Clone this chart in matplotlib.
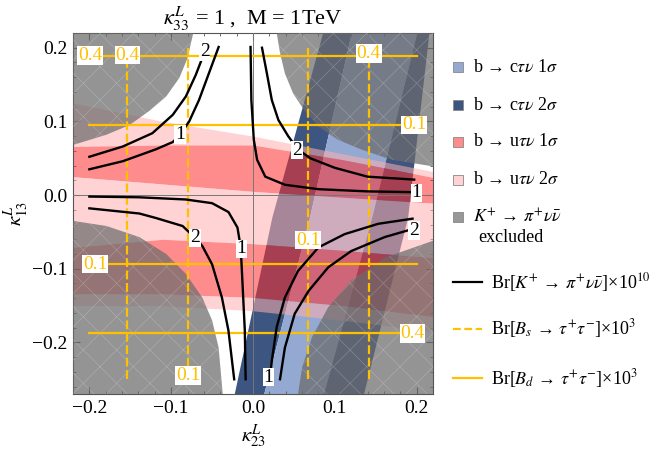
import numpy as np
import matplotlib.pyplot as plt
from matplotlib.patches import Rectangle
from matplotlib.lines import Line2D
from matplotlib.ticker import FixedLocator, MultipleLocator, FuncFormatter

plt.rcParams['font.family'] = ['Liberation Serif', 'DejaVu Serif']
plt.rcParams['mathtext.fontset'] = 'stix'
plt.rcParams['hatch.linewidth'] = 0.5

# plot range (kappa23, kappa13)
x_lim = (-0.22, 0.22)
y_lim = (-0.27, 0.22)

# K+ -> pi+ nu nubar excluded corners (boundary)
gray_tl_x = [-0.220, -0.179, -0.151, -0.127, -0.106, -0.090, -0.080, -0.073]
gray_tl_y = [0.068, 0.082, 0.095, 0.114, 0.134, 0.159, 0.186, 0.220]
gray_tr_x = [0.029, 0.033, 0.039, 0.049, 0.062, 0.080, 0.104, 0.132, 0.169, 0.220]
gray_tr_y = [0.220, 0.193, 0.165, 0.138, 0.116, 0.093, 0.075, 0.062, 0.048, 0.039]
gray_bl_x = [-0.220, -0.179, -0.139, -0.106, -0.082, -0.062, -0.050, -0.042, -0.037]
gray_bl_y = [-0.035, -0.042, -0.057, -0.080, -0.107, -0.139, -0.170, -0.207, -0.270]
gray_br_x = [0.220, 0.161, 0.120, 0.092, 0.072, 0.060, 0.055]
gray_br_y = [-0.062, -0.085, -0.116, -0.152, -0.193, -0.234, -0.270]

# b -> c tau nu bands: edges given as kappa23 at a few kappa13 values
blue_y = [-0.27, -0.03, 0.22]
blue2_left = [-0.023, 0.023, 0.085]
blue1_left = [0.013, 0.069, 0.120]
blue1_right = [0.086, 0.145, 0.200]
blue2_right = [0.135, 0.189, 0.215]

# b -> u tau nu bands: edges (kappa13) at a few kappa23 values, top to bottom
red_x = [-0.22, -0.11, 0.0, 0.11, 0.22]
red_edges = [
    [0.125, 0.100, 0.080, 0.056, 0.032],
    [0.066, 0.068, 0.068, 0.048, 0.024],
    [0.025, 0.015, 0.005, -0.003, -0.011],
    [-0.071, -0.060, -0.066, -0.075, -0.085],
    [-0.134, -0.134, -0.139, -0.150, -0.165],
    [-0.150, -0.150, -0.157, -0.170, -0.185],
]
red_level = ['2s', '1s', '2s', '1s', '2s']

# Br[K+ -> pi+ nu nubar] x 1e10 contours
k_ul2_x = [-0.200, -0.159, -0.123, -0.098, -0.082, -0.070, -0.062, -0.058]
k_ul2_y = [0.052, 0.066, 0.084, 0.109, 0.134, 0.163, 0.186, 0.197]
k_ul1_x = [-0.200, -0.159, -0.119, -0.098, -0.089, -0.078, -0.066, -0.054, -0.042]
k_ul1_y = [0.035, 0.046, 0.062, 0.072, 0.082, 0.100, 0.129, 0.165, 0.201]
k_ur1_x = [-0.003, -0.002, 0.001, 0.005, 0.015, 0.039, 0.080, 0.140, 0.195]
k_ur1_y = [0.201, 0.129, 0.075, 0.048, 0.025, 0.014, 0.008, 0.005, 0.004]
k_ur2_x = [0.011, 0.017, 0.023, 0.031, 0.043, 0.055, 0.070, 0.100, 0.140, 0.197]
k_ur2_y = [0.200, 0.165, 0.129, 0.102, 0.080, 0.062, 0.050, 0.037, 0.025, 0.021]
k_ll1_x = [-0.200, -0.139, -0.082, -0.050, -0.030, -0.019, -0.015, -0.013, -0.010, -0.009]
k_ll1_y = [-0.002, -0.003, -0.006, -0.011, -0.023, -0.044, -0.071, -0.116, -0.184, -0.250]
k_ll2_x = [-0.200, -0.139, -0.119, -0.086, -0.071, -0.062, -0.050, -0.038, -0.030, -0.023]
k_ll2_y = [-0.018, -0.025, -0.031, -0.042, -0.058, -0.069, -0.094, -0.139, -0.184, -0.250]
k_lr1_x = [0.021, 0.023, 0.029, 0.039, 0.055, 0.080, 0.112, 0.153, 0.189, 0.195]
k_lr1_y = [-0.245, -0.225, -0.179, -0.139, -0.103, -0.071, -0.053, -0.039, -0.033, -0.032]
k_lr2_x = [0.033, 0.039, 0.051, 0.068, 0.092, 0.120, 0.161, 0.189, 0.197]
k_lr2_y = [-0.250, -0.207, -0.161, -0.130, -0.098, -0.076, -0.057, -0.048, -0.047]
k_curves = [(k_ul2_x, k_ul2_y), (k_ul1_x, k_ul1_y), (k_ur1_x, k_ur1_y), (k_ur2_x, k_ur2_y),
            (k_ll1_x, k_ll1_y), (k_ll2_x, k_ll2_y), (k_lr1_x, k_lr1_y), (k_lr2_x, k_lr2_y)]
k_label_x = [-0.059, -0.089, 0.200, 0.054, -0.014, -0.071, 0.019, 0.197]
k_label_y = [0.195, 0.082, 0.003, 0.061, -0.073, -0.058, -0.247, -0.048]
k_label_txt = ['2', '1', '1', '2', '1', '2', '1', '2']

# Br[B_s -> tau tau] x 1e3 (vertical dashed) and Br[B_d -> tau tau] x 1e3 (horizontal)
bs_x = [-0.1535, -0.0795, 0.0676, 0.1416]
bs_label_y = [0.190, -0.245, -0.061, 0.192]
bs_label_txt = ['0.4', '0.1', '0.1', '0.4']
bs_span = (-0.25, 0.20)
bd_y = [0.1894, 0.0953, -0.0936, -0.1876]
bd_label_x = [-0.199, 0.197, -0.193, 0.195]
bd_label_txt = ['0.4', '0.1', '0.1', '0.4']
bd_span = (-0.20, 0.20)

c_blue1 = '#93a9d2'
c_blue2 = '#3d5581'
c_red = {'1s': '#ff2e2e', '2s': '#ffafaf'}
c_gold = '#ffc000'

fig = plt.figure(figsize=(6.52, 4.49), dpi=100)
ax = fig.add_axes([73 / 652, 1 - 394 / 449, 360 / 652, 361 / 449])

# b -> c tau nu
ax.fill_betweenx(blue_y, blue2_left, blue1_left, color=c_blue2, lw=0, zorder=1)
ax.fill_betweenx(blue_y, blue1_left, blue1_right, color=c_blue1, lw=0, zorder=1)
ax.fill_betweenx(blue_y, blue1_right, blue2_right, color=c_blue2, lw=0, zorder=1)

# b -> u tau nu
for i, lev in enumerate(red_level):
    ax.fill_between(red_x, red_edges[i], red_edges[i + 1],
                    color=c_red[lev], alpha=0.55, lw=0, zorder=2)

# K -> pi nu nu excluded
gray_kw = dict(facecolor=(0.42, 0.42, 0.42, 0.72), edgecolor=(1, 1, 1, 0.22),
               hatch='x', lw=0, zorder=3)
ax.fill(gray_tl_x + [x_lim[0]], gray_tl_y + [y_lim[1]], **gray_kw)
ax.fill(gray_tr_x + [x_lim[1]], gray_tr_y + [y_lim[1]], **gray_kw)
ax.fill(gray_bl_x + [x_lim[0]], gray_bl_y + [y_lim[0]], **gray_kw)
ax.fill(gray_br_x + [x_lim[1]], gray_br_y + [y_lim[0]], **gray_kw)

ax.axhline(0, color='#777777', lw=0.7, zorder=4)
ax.axvline(0, color='#777777', lw=0.7, zorder=4)

# B_d / B_s lines
for y in bd_y:
    ax.plot(bd_span, [y, y], color=c_gold, lw=1.6, zorder=5)
for x in bs_x:
    ax.plot([x, x], bs_span, color=c_gold, lw=1.6, dashes=(4, 1.6), zorder=5)

# K contours
for cx, cy in k_curves:
    ax.plot(cx, cy, color='black', lw=1.7, zorder=6)

lab_box = dict(facecolor='white', edgecolor='none', pad=0.6)
for x, y, t in zip(k_label_x, k_label_y, k_label_txt):
    ax.text(x, y, t, ha='center', va='center', fontsize=14, bbox=lab_box, zorder=7)
for x, y, t in zip(bs_x, bs_label_y, bs_label_txt):
    ax.text(x, y, t, ha='center', va='center', fontsize=14, color=c_gold, bbox=lab_box, zorder=7)
for x, y, t in zip(bd_label_x, bd_y, bd_label_txt):
    ax.text(x, y, t, ha='center', va='center', fontsize=14, color=c_gold, bbox=lab_box, zorder=7)

ax.set_xlim(x_lim)
ax.set_ylim(y_lim)
ticks = [-0.2, -0.1, 0.0, 0.1, 0.2]
fmt = FuncFormatter(lambda v, p: ('%.1f' % v).replace('-', '\u2212') if abs(v) > 1e-9 else '0.0')
ax.xaxis.set_major_locator(FixedLocator(ticks))
ax.yaxis.set_major_locator(FixedLocator(ticks))
ax.xaxis.set_minor_locator(MultipleLocator(0.02))
ax.yaxis.set_minor_locator(MultipleLocator(0.02))
ax.xaxis.set_major_formatter(fmt)
ax.yaxis.set_major_formatter(fmt)
ax.tick_params(which='both', direction='in', top=True, right=True, color='#555555',
               labelsize=14, pad=4)
ax.tick_params(which='major', length=5)
ax.tick_params(which='minor', length=2.5)
for s in ax.spines.values():
    s.set_color('#555555')
    s.set_linewidth(0.8)

ax.set_title(r'$\kappa^L_{33}$ = 1 ,  M = 1TeV', fontsize=16, pad=3)
ax.set_xlabel(r'$\kappa^L_{23}$', fontsize=15, labelpad=4)
ax.set_ylabel(r'$\kappa^L_{13}$', fontsize=15, labelpad=1)

# legend, drawn in pixel coordinates
leg = fig.add_axes([0, 0, 1, 1])
leg.set_xlim(0, 652)
leg.set_ylim(449, 0)
leg.axis('off')
sw_cols = ['#93a9d2', '#3d5581', '#ff8c8c', '#ffd3d3', '#989898']
sw_y = [67, 105, 142, 180, 217]
sw_txt = [r'b → c$\tau\nu$ 1$\sigma$', r'b → c$\tau\nu$ 2$\sigma$',
          r'b → u$\tau\nu$ 1$\sigma$', r'b → u$\tau\nu$ 2$\sigma$',
          r'$K^{+}$ → $\pi^{+}\nu\bar{\nu}$']
for c, y, t in zip(sw_cols, sw_y, sw_txt):
    leg.add_patch(Rectangle((453, y - 5), 10, 10, facecolor=c, edgecolor='#888888', lw=0.6))
    leg.text(473, y, t, fontsize=13, va='center', ha='left')
leg.text(478, 238, 'excluded', fontsize=13, va='center', ha='left')
ln_y = [282, 329, 378]
ln_style = [dict(color='black'), dict(color=c_gold, dashes=(3.5, 1.6)), dict(color=c_gold)]
ln_txt = [r'Br[$K^{+}$ → $\pi^{+}\nu\bar{\nu}$]×10$^{10}$',
          r'Br[$B_s$ → $\tau^{+}\tau^{-}$]×10$^{3}$',
          r'Br[$B_d$ → $\tau^{+}\tau^{-}$]×10$^{3}$']
for y, st, t in zip(ln_y, ln_style, ln_txt):
    leg.add_line(Line2D([453, 482], [y, y], lw=1.6, **st))
    leg.text(491, y, t, fontsize=13, va='center', ha='left')

fig.savefig('out.png', dpi=100)
